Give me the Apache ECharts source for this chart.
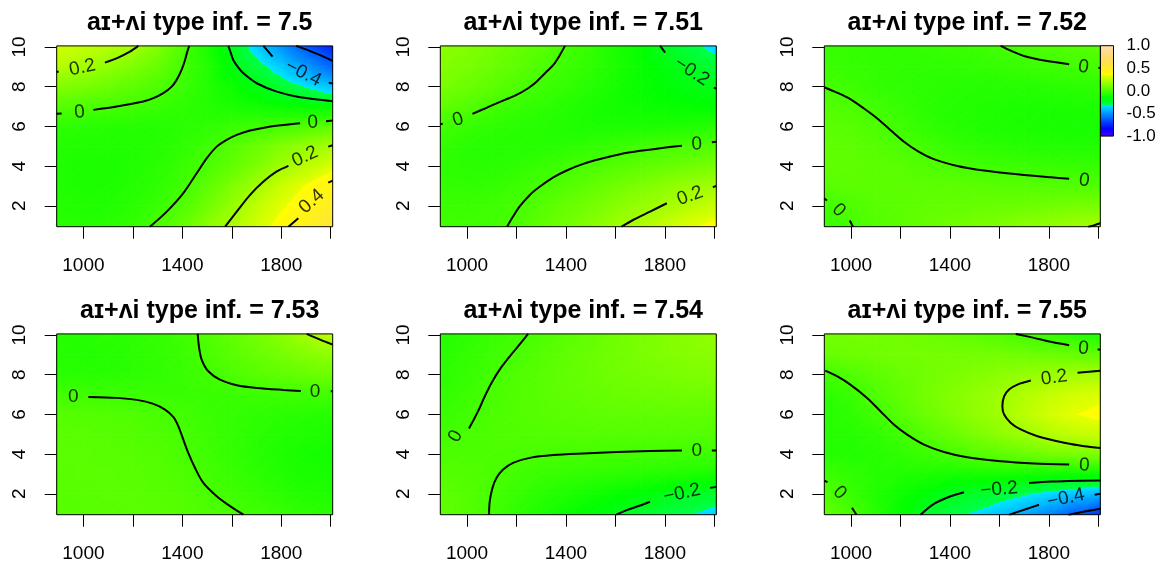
<!DOCTYPE html>
<html>
<head>
<meta charset="utf-8">
<script src="https://cdn.jsdelivr.net/npm/echarts@6/dist/echarts.min.js"></script>
<style>
  html, body { margin: 0; padding: 0; background: #fff; }
  #chart { width: 1162px; height: 569px; }
</style>
</head>
<body>
<div id="chart"></div>
<script>
// ---------- data ----------
const panelValues = ['7.5', '7.51', '7.52', '7.53', '7.54', '7.55'];
const xNodes = [892, 1000, 1100, 1200, 1300, 1400, 1500, 1600, 1700, 1800, 1900, 2008];
const yNodes = [0.95, 2, 3, 4, 5, 6, 7, 8, 9, 10.05];
const xTicks = [1000, 1200, 1400, 1600, 1800, 2000];
const xTickLabels = [1000, 1400, 1800];
const yTicks = [2, 4, 6, 8, 10];
const legendTicks = [-1, -0.5, 0, 0.5, 1];

// surface values, rows from top (y = 10.05) down to bottom (y = 0.95), columns follow xNodes
const z1 = [
  [0.30, 0.27, 0.24, 0.21, 0.13, 0.03, -0.09, -0.21, -0.36, -0.50, -0.64, -0.76],
  [0.24, 0.20, 0.16, 0.12, 0.07, 0.00, -0.07, -0.17, -0.27, -0.37, -0.48, -0.60],
  [0.13, 0.11, 0.08, 0.05, 0.02, -0.02, -0.07, -0.12, -0.18, -0.25, -0.32, -0.39],
  [0.035, 0.02, 0.005, -0.01, -0.03, -0.05, -0.07, -0.09, -0.11, -0.13, -0.14, -0.14],
  [-0.05, -0.06, -0.07, -0.07, -0.07, -0.06, -0.05, -0.03, -0.015, -0.003, 0.02, 0.05],
  [-0.07, -0.08, -0.08, -0.08, -0.07, -0.05, -0.015, 0.03, 0.08, 0.13, 0.17, 0.21],
  [-0.08, -0.09, -0.09, -0.08, -0.06, -0.03, 0.01, 0.06, 0.12, 0.19, 0.25, 0.32],
  [-0.08, -0.09, -0.09, -0.07, -0.05, -0.01, 0.05, 0.12, 0.20, 0.28, 0.35, 0.42],
  [-0.07, -0.08, -0.08, -0.06, -0.03, 0.02, 0.09, 0.17, 0.26, 0.33, 0.40, 0.48],
  [-0.06, -0.07, -0.06, -0.04, 0.01, 0.07, 0.15, 0.22, 0.30, 0.38, 0.46, 0.55]
];
const z2 = [
  [0.15, 0.13, 0.10, 0.07, 0.04, 0.00, -0.04, -0.09, -0.14, -0.21, -0.28, -0.35],
  [0.13, 0.11, 0.08, 0.05, 0.015, -0.02, -0.05, -0.09, -0.13, -0.17, -0.21, -0.26],
  [0.11, 0.08, 0.05, 0.02, -0.015, -0.04, -0.07, -0.10, -0.13, -0.16, -0.18, -0.20],
  [0.06, 0.03, -0.002, -0.03, -0.05, -0.07, -0.09, -0.11, -0.12, -0.13, -0.14, -0.15],
  [-0.01, -0.03, -0.05, -0.06, -0.07, -0.08, -0.09, -0.09, -0.09, -0.09, -0.08, -0.07],
  [-0.04, -0.06, -0.07, -0.07, -0.07, -0.06, -0.045, -0.03, -0.015, -0.002, 0.01, 0.025],
  [-0.05, -0.06, -0.06, -0.05, -0.03, -0.01, 0.01, 0.03, 0.05, 0.07, 0.09, 0.11],
  [-0.04, -0.045, -0.04, -0.02, 0.00, 0.03, 0.06, 0.09, 0.12, 0.15, 0.18, 0.20],
  [-0.02, -0.025, -0.015, -0.003, 0.03, 0.07, 0.10, 0.14, 0.17, 0.20, 0.24, 0.28],
  [-0.01, -0.01, -0.01, 0.01, 0.06, 0.10, 0.14, 0.19, 0.23, 0.28, 0.33, 0.38]
];
const z3 = [
  [-0.03, -0.04, -0.045, -0.045, -0.04, -0.03, -0.02, -0.002, 0.01, 0.02, 0.03, 0.04],
  [-0.02, -0.035, -0.045, -0.05, -0.05, -0.05, -0.045, -0.04, -0.03, -0.02, -0.01, 0.0],
  [0.0, -0.02, -0.04, -0.05, -0.06, -0.065, -0.07, -0.07, -0.07, -0.065, -0.06, -0.05],
  [0.03, 0.015, -0.01, -0.035, -0.055, -0.07, -0.08, -0.085, -0.09, -0.09, -0.09, -0.09],
  [0.05, 0.035, 0.015, -0.015, -0.045, -0.065, -0.08, -0.09, -0.095, -0.10, -0.10, -0.10],
  [0.06, 0.05, 0.035, 0.015, -0.01, -0.035, -0.05, -0.06, -0.07, -0.075, -0.08, -0.08],
  [0.06, 0.055, 0.05, 0.04, 0.025, 0.008, -0.008, -0.018, -0.025, -0.03, -0.035, -0.035],
  [0.04, 0.05, 0.05, 0.05, 0.05, 0.05, 0.045, 0.04, 0.035, 0.03, 0.025, 0.02],
  [-0.01, 0.02, 0.04, 0.05, 0.06, 0.065, 0.07, 0.075, 0.08, 0.09, 0.10, 0.11],
  [-0.03, -0.002, 0.03, 0.05, 0.07, 0.09, 0.11, 0.13, 0.15, 0.17, 0.19, 0.21]
];
const z4 = [
  [-0.07, -0.07, -0.06, -0.05, -0.035, -0.015, 0.02, 0.06, 0.10, 0.14, 0.20, 0.26],
  [-0.07, -0.075, -0.07, -0.06, -0.045, -0.025, 0.005, 0.04, 0.07, 0.10, 0.13, 0.16],
  [-0.06, -0.065, -0.065, -0.055, -0.045, -0.03, -0.01, 0.015, 0.035, 0.055, 0.07, 0.085],
  [-0.01, -0.015, -0.02, -0.025, -0.03, -0.03, -0.03, -0.03, -0.025, -0.02, -0.015, -0.01],
  [0.03, 0.03, 0.025, 0.018, 0.008, -0.008, -0.025, -0.04, -0.05, -0.06, -0.065, -0.07],
  [0.04, 0.04, 0.035, 0.028, 0.017, 0.0, -0.02, -0.04, -0.06, -0.075, -0.085, -0.09],
  [0.045, 0.045, 0.04, 0.035, 0.025, 0.008, -0.015, -0.04, -0.065, -0.085, -0.10, -0.11],
  [0.04, 0.045, 0.045, 0.04, 0.03, 0.017, -0.004, -0.03, -0.055, -0.08, -0.095, -0.10],
  [0.035, 0.04, 0.045, 0.045, 0.035, 0.025, 0.01, -0.01, -0.035, -0.06, -0.075, -0.085],
  [0.03, 0.035, 0.04, 0.045, 0.04, 0.03, 0.02, 0.008, -0.01, -0.03, -0.05, -0.065]
];
const z5 = [
  [-0.07, -0.05, -0.03, -0.01, 0.015, 0.04, 0.065, 0.09, 0.11, 0.13, 0.145, 0.16],
  [-0.065, -0.04, -0.02, 0.005, 0.03, 0.055, 0.075, 0.095, 0.11, 0.125, 0.135, 0.145],
  [-0.055, -0.035, -0.006, 0.02, 0.04, 0.06, 0.075, 0.09, 0.10, 0.11, 0.12, 0.125],
  [-0.045, -0.02, 0.005, 0.025, 0.04, 0.055, 0.065, 0.075, 0.08, 0.085, 0.09, 0.09],
  [-0.03, -0.012, 0.01, 0.025, 0.035, 0.045, 0.05, 0.055, 0.055, 0.055, 0.055, 0.055],
  [-0.01, 0.003, 0.015, 0.02, 0.025, 0.028, 0.03, 0.03, 0.03, 0.03, 0.028, 0.025],
  [0.01, 0.015, 0.015, 0.012, 0.006, 0.0, -0.003, -0.006, -0.008, -0.01, -0.012, -0.014],
  [0.03, 0.025, 0.008, -0.01, -0.025, -0.035, -0.045, -0.055, -0.065, -0.075, -0.085, -0.10],
  [0.05, 0.03, 0.0, -0.03, -0.06, -0.085, -0.11, -0.135, -0.16, -0.19, -0.215, -0.24],
  [0.06, 0.03, -0.005, -0.05, -0.09, -0.13, -0.165, -0.20, -0.24, -0.28, -0.31, -0.36]
];
const z6 = [
  [0.10, 0.10, 0.10, 0.095, 0.085, 0.07, 0.05, 0.025, -0.01, -0.04, -0.065, -0.09],
  [0.07, 0.08, 0.09, 0.10, 0.10, 0.10, 0.10, 0.10, 0.09, 0.08, 0.07, 0.06],
  [-0.01, 0.02, 0.05, 0.075, 0.095, 0.11, 0.13, 0.15, 0.17, 0.185, 0.20, 0.21],
  [-0.06, -0.03, 0.02, 0.06, 0.10, 0.13, 0.16, 0.19, 0.23, 0.27, 0.30, 0.32],
  [-0.07, -0.05, -0.015, 0.035, 0.08, 0.12, 0.16, 0.195, 0.25, 0.30, 0.34, 0.37],
  [-0.07, -0.07, -0.05, -0.015, 0.03, 0.07, 0.11, 0.15, 0.185, 0.23, 0.26, 0.28],
  [-0.07, -0.075, -0.07, -0.05, -0.025, 0.0, 0.03, 0.05, 0.075, 0.10, 0.11, 0.125],
  [-0.02, -0.05, -0.07, -0.08, -0.09, -0.10, -0.10, -0.10, -0.105, -0.11, -0.115, -0.12],
  [0.03, -0.03, -0.08, -0.12, -0.16, -0.21, -0.23, -0.26, -0.30, -0.34, -0.38, -0.42],
  [0.06, 0.01, -0.07, -0.14, -0.23, -0.28, -0.33, -0.39, -0.45, -0.53, -0.62, -0.72]
];

// contour pieces: [level, [[x, y], ...]]
const lines1 = [
  [0.2, [[892, 8.74], [900, 8.76]]],
  [0.2, [[1087, 9.21], [1134, 9.42], [1188, 9.76], [1222, 10.05]]],
  [0, [[892, 6.63], [912, 6.65]]],
  [0, [[1040, 6.83], [1135, 7.0], [1242, 7.25], [1283, 7.42], [1323, 7.67], [1357, 8.0], [1377, 8.34], [1397, 8.84], [1411, 9.34], [1420, 9.76], [1428, 10.05]]],
  [-0.2, [[1586, 10.05], [1596, 9.7], [1606, 9.34], [1625, 8.98], [1647, 8.67], [1701, 8.17], [1782, 7.75], [1876, 7.47], [2008, 7.27]]],
  [-0.4, [[1728, 10.05], [1765, 9.51]]],
  [-0.4, [[1992, 8.19], [2008, 8.16]]],
  [-0.6, [[1860, 10.05], [1935, 9.7], [2008, 9.3]]],
  [0, [[1269, 0.95], [1337, 1.71], [1404, 2.64], [1458, 3.64], [1499, 4.40], [1539, 4.98], [1579, 5.32], [1620, 5.57], [1674, 5.79], [1741, 5.96], [1809, 6.07], [1876, 6.16]]],
  [0, [[1981, 6.26], [2008, 6.29]]],
  [0.2, [[1573, 0.95], [1620, 1.71], [1674, 2.55], [1728, 3.22], [1782, 3.73], [1829, 4.01]]],
  [0.2, [[1990, 4.98], [2008, 5.05]]],
  [0.4, [[1829, 0.95], [1869, 1.38]]],
  [0.4, [[1990, 3.17], [2008, 3.27]]]
];
const lines2 = [
  [0, [[892, 6.1], [902, 6.14]]],
  [0, [[1022, 6.63], [1065, 6.86], [1105, 7.08], [1153, 7.33], [1200, 7.58], [1247, 7.92], [1281, 8.25], [1322, 8.76], [1349, 9.09], [1376, 9.6], [1396, 10.05]]],
  [-0.2, [[1781, 10.05], [1801, 9.71]]],
  [-0.2, [[1998, 7.95], [2008, 7.9]]],
  [0, [[1162, 0.95], [1186, 1.46], [1213, 1.97], [1254, 2.55], [1295, 2.97], [1349, 3.43], [1403, 3.78], [1470, 4.11], [1538, 4.36], [1619, 4.6], [1700, 4.77], [1781, 4.9], [1869, 5.03]]],
  [0, [[1990, 5.2], [2008, 5.22]]],
  [0.2, [[1625, 0.95], [1673, 1.3], [1740, 1.71], [1808, 2.13]]],
  [0.2, [[1994, 2.94], [2008, 3.0]]]
];
const lines3 = [
  [0, [[1605, 10.05], [1646, 9.81], [1700, 9.54], [1781, 9.31], [1882, 9.13]]],
  [0, [[2000, 8.95], [2008, 8.94]]],
  [0, [[892, 7.97], [943, 7.7], [997, 7.37], [1051, 6.91], [1105, 6.41], [1159, 5.82], [1213, 5.24], [1268, 4.77], [1335, 4.35], [1430, 4.01], [1538, 3.78], [1673, 3.59], [1808, 3.44], [1882, 3.36]]],
  [0, [[892, 2.37], [903, 2.27]]],
  [0, [[995, 1.26], [1008, 0.95]]],
  [0.2, [[1960, 0.95], [1985, 1.03], [2008, 1.12]]]
];
const lines4 = [
  [0, [[1020, 6.88], [1135, 6.83], [1216, 6.73], [1283, 6.53], [1330, 6.24], [1364, 5.86], [1384, 5.4], [1404, 4.73], [1424, 4.06], [1451, 3.31], [1485, 2.55], [1539, 1.88], [1593, 1.38], [1647, 0.95]]],
  [0, [[1462, 10.05], [1468, 9.34], [1478, 8.76], [1505, 8.17], [1552, 7.75], [1620, 7.47], [1701, 7.33], [1809, 7.23], [1879, 7.18]]],
  [0, [[2000, 7.16], [2008, 7.16]]],
  [0.2, [[1903, 10.05], [1957, 9.76], [2008, 9.51]]]
];
const lines5 = [
  [0, [[1008, 5.29], [1024, 5.66], [1045, 6.16], [1072, 6.91], [1099, 7.58], [1132, 8.25], [1173, 8.92], [1207, 9.43], [1247, 10.05]]],
  [0, [[1089, 0.95], [1092, 1.63], [1103, 2.3], [1119, 2.8], [1146, 3.22], [1186, 3.56], [1254, 3.81], [1349, 3.95], [1470, 4.03], [1605, 4.1], [1740, 4.15], [1869, 4.18]]],
  [0, [[1990, 4.18], [2008, 4.18]]],
  [-0.2, [[1603, 0.95], [1646, 1.18], [1700, 1.41], [1740, 1.6]]],
  [-0.2, [[1983, 2.3], [2008, 2.35]]]
];
const lines6 = [
  [0, [[1666, 10.05], [1740, 9.85], [1808, 9.65], [1882, 9.48]]],
  [0, [[1997, 9.26], [2008, 9.26]]],
  [0.2, [[1727, 7.7], [1673, 7.5], [1639, 7.25], [1619, 6.91], [1612, 6.41], [1619, 5.99], [1646, 5.57], [1686, 5.24], [1754, 4.9], [1862, 4.57], [1943, 4.4], [2008, 4.31]]],
  [0.2, [[1916, 8.09], [2008, 8.2]]],
  [0, [[896, 8.2], [943, 7.92], [997, 7.5], [1065, 6.83], [1119, 6.16], [1173, 5.49], [1227, 4.98], [1295, 4.48], [1376, 4.11], [1470, 3.84], [1605, 3.64], [1740, 3.53], [1882, 3.48]]],
  [0, [[892, 2.67], [905, 2.59]]],
  [0, [[1004, 1.3], [1022, 0.95]]],
  [-0.2, [[1281, 0.95], [1335, 1.5], [1403, 1.88], [1457, 2.08]]],
  [-0.2, [[1720, 2.55], [1808, 2.62], [1875, 2.64], [2008, 2.67]]],
  [-0.4, [[1640, 0.95], [1700, 1.2], [1760, 1.45]]],
  [-0.4, [[1985, 1.95], [2008, 2.0]]],
  [-0.6, [[1880, 0.95], [1950, 1.12], [2008, 1.25]]]
];

// contour labels: [level, x, y, angle]
const labels1 = [[0.2, 996, 8.96, 12], [0, 984, 6.71, 5], [-0.4, 1889, 8.67, -27], [0, 1927, 6.19, 3], [0.2, 1896, 4.48, 25], [0.4, 1923, 2.22, 42]];
const labels2 = [[0, 964, 6.33, 17], [-0.2, 1909, 8.76, -33], [0, 1929, 5.1, 3], [0.2, 1902, 2.5, 20]];
const labels3 = [[0, 1940, 8.98, -8], [0, 1943, 3.27, -8], [0, 950, 1.77, -45]];
const labels4 = [[0, 959, 6.88, 0], [0, 1937, 7.15, 0]];
const labels5 = [[0, 954, 4.9, 60], [0, 1929, 4.16, 0], [-0.2, 1869, 2.02, 12]];
const labels6 = [[0, 1940, 9.31, -5], [0.2, 1821, 7.85, 8], [0, 1943, 3.44, -3], [0, 954, 2.05, -45], [-0.2, 1599, 2.22, 5], [-0.4, 1869, 1.77, 12]];

const surfaces = [z1, z2, z3, z4, z5, z6];
const contourLines = [lines1, lines2, lines3, lines4, lines5, lines6];
const contourLabels = [labels1, labels2, labels3, labels4, labels5, labels6];

// ---------- layout ----------
const FONT = 'Liberation Sans, Arial, Helvetica, sans-serif';
const COLS = [56.7, 440.3, 824.3];
const ROWS = [45.9, 333.9];
const PW = 276, PH = 180.8;
const X_MIN = xNodes[0], X_MAX = xNodes[xNodes.length - 1];
const Y_MIN = yNodes[0], Y_MAX = yNodes[yNodes.length - 1];

// ---------- colour scale (topographic palette, -1 .. 1) ----------
const BREAK_LO = -1 + 2 * 22 / 64;
const BREAK_HI = -1 + 2 * 43 / 64;
function hsv(h, s, v) {
  const c = v * s, hp = (h % 360) / 60, x = c * (1 - Math.abs(hp % 2 - 1));
  let r = 0, g = 0, b = 0;
  if (hp < 1) { r = c; g = x; } else if (hp < 2) { r = x; g = c; }
  else if (hp < 3) { g = c; b = x; } else if (hp < 4) { g = x; b = c; }
  else if (hp < 5) { r = x; b = c; } else { r = c; b = x; }
  const m = v - c;
  return 'rgb(' + Math.round((r + m) * 255) + ',' + Math.round((g + m) * 255) + ',' + Math.round((b + m) * 255) + ')';
}
function topo(v) {
  v = Math.max(-1, Math.min(1, v));
  if (v < BREAK_LO) return hsv(258 - 72 * (v + 1) / (BREAK_LO + 1), 1, 1);
  if (v < BREAK_HI) return hsv(138 - 72 * (v - BREAK_LO) / (BREAK_HI - BREAK_LO), 1, 1);
  const u = (v - BREAK_HI) / (1 - BREAK_HI);
  return hsv(60 - 24 * u, 1 - 0.7 * u, 1);
}
function gradientStops(vLo, vHi, n) {
  const ts = [];
  for (let k = 0; k <= n; k++) ts.push(k / n);
  [BREAK_LO, BREAK_HI].forEach(b => {
    if (b > vLo && b < vHi) {
      const t = (b - vLo) / (vHi - vLo);
      ts.push(Math.max(0, t - 1e-4), t);
    }
  });
  ts.sort((a, b) => a - b);
  return ts.map(t => ({ offset: t, color: topo(vLo + t * (vHi - vLo)) }));
}

// ---------- shaded triangles ----------
function shadedTriangle(A, B, C) {
  const d1x = B.p[0] - A.p[0], d1y = B.p[1] - A.p[1];
  const d2x = C.p[0] - A.p[0], d2y = C.p[1] - A.p[1];
  const dv1 = B.v - A.v, dv2 = C.v - A.v;
  const det = d1x * d2y - d1y * d2x;
  const vMin = Math.min(A.v, B.v, C.v), vMax = Math.max(A.v, B.v, C.v);
  let fill;
  if (Math.abs(det) < 1e-9 || vMax - vMin < 1e-6) {
    fill = topo(vMin);
  } else {
    const gx = (dv1 * d2y - dv2 * d1y) / det;
    const gy = (d1x * dv2 - d2x * dv1) / det;
    const g2 = gx * gx + gy * gy;
    const lo = [A, B, C].reduce((m, c) => (c.v < m.v ? c : m));
    const k = (vMax - vMin) / g2;
    fill = {
      type: 'linear', global: true,
      x: lo.p[0], y: lo.p[1], x2: lo.p[0] + gx * k, y2: lo.p[1] + gy * k,
      colorStops: gradientStops(vMin, vMax, 8)
    };
  }
  return { type: 'polygon', shape: { points: [A.p, B.p, C.p] }, style: { fill: fill, stroke: fill, lineWidth: 0.8 } };
}

function surfaceSeries(idx) {
  const z = surfaces[idx];
  const nRows = yNodes.length;
  const cells = [];
  for (let j = 0; j < nRows - 1; j++) for (let i = 0; i < xNodes.length - 1; i++) cells.push([i, j]);
  return {
    type: 'custom', xAxisIndex: idx, yAxisIndex: idx, clip: true, silent: true, z: 1,
    data: cells,
    encode: { x: -1, y: -1 },
    renderItem: function (params, api) {
      const i = api.value(0), j = api.value(1);
      const node = (a, b) => ({ p: api.coord([xNodes[a], yNodes[b]]), v: z[nRows - 1 - b][a] });
      const c00 = node(i, j), c10 = node(i + 1, j), c01 = node(i, j + 1), c11 = node(i + 1, j + 1);
      return { type: 'group', children: [shadedTriangle(c00, c10, c11), shadedTriangle(c00, c11, c01)] };
    }
  };
}

function boxSeries(idx) {
  return {
    type: 'custom', xAxisIndex: idx, yAxisIndex: idx, clip: false, silent: true, z: 10,
    data: [[X_MIN, Y_MAX]],
    renderItem: function (params, api) {
      const tl = api.coord([X_MIN, Y_MAX]), br = api.coord([X_MAX, Y_MIN]);
      return { type: 'rect', shape: { x: tl[0], y: tl[1], width: br[0] - tl[0], height: br[1] - tl[1] },
        style: { fill: 'none', stroke: '#000', lineWidth: 1 } };
    }
  };
}

function levelText(level) {
  if (level === 0) return '0';
  return (level < 0 ? '\u2212' : '') + Math.abs(level).toString();
}

// ---------- assemble ----------
const grids = [], xAxes = [], yAxes = [], series = [], titles = [];
for (let p = 0; p < 6; p++) {
  const left = COLS[p % 3], top = ROWS[Math.floor(p / 3)];
  grids.push({ left: left, top: top, width: PW, height: PH, containLabel: false });
  xAxes.push({
    gridIndex: p, type: 'value', min: X_MIN, max: X_MAX,
    splitLine: { show: false }, axisLine: { show: false },
    axisTick: { show: true, length: 12, customValues: xTicks, lineStyle: { color: '#000', width: 1 } },
    axisLabel: { customValues: xTickLabels, formatter: v => String(v), margin: 30, fontSize: 19, color: '#000', fontFamily: FONT }
  });
  yAxes.push({
    gridIndex: p, type: 'value', min: Y_MIN, max: Y_MAX,
    splitLine: { show: false }, axisLine: { show: false },
    axisTick: { show: true, length: 12, customValues: yTicks, lineStyle: { color: '#000', width: 1 } },
    axisLabel: { customValues: yTicks, formatter: v => String(v), rotate: 90, margin: 27, fontSize: 19, color: '#000', fontFamily: FONT }
  });
  titles.push({
    text: 'a\u026A+\u028Ci type inf. = ' + panelValues[p],
    left: left + PW / 2, top: top - 40, textAlign: 'center',
    textStyle: { fontSize: 25, fontWeight: 'bold', color: '#000', fontFamily: FONT }
  });
  series.push(surfaceSeries(p));
  contourLines[p].forEach(([level, pts]) => {
    series.push({
      type: 'line', xAxisIndex: p, yAxisIndex: p, data: pts, symbol: 'none', smooth: 0.3,
      silent: true, z: 3, clip: true, animation: false,
      lineStyle: { color: '#000', width: 2 }
    });
  });
  series.push({
    type: 'scatter', xAxisIndex: p, yAxisIndex: p, symbolSize: 0, silent: true, z: 4,
    data: contourLabels[p].map(([level, x, y, ang]) => ({
      value: [x, y],
      label: { show: true, position: 'inside', formatter: levelText(level), rotate: ang,
        fontSize: 19, color: '#000', fontFamily: FONT }
    }))
  });
  series.push(boxSeries(p));
}

// colour key beside the third panel
grids.push({ left: 1100.5, top: 45.7, width: 13, height: 90.4 });
xAxes.push({ gridIndex: 6, type: 'value', min: 0, max: 1, show: false });
yAxes.push({
  gridIndex: 6, type: 'value', position: 'right', min: -1, max: 1,
  splitLine: { show: false }, axisLine: { show: false }, axisTick: { show: false },
  axisLabel: { customValues: legendTicks, formatter: v => v.toFixed(1), margin: 13, fontSize: 17, color: '#000', fontFamily: FONT }
});
series.push({
  type: 'custom', xAxisIndex: 6, yAxisIndex: 6, silent: true, clip: false, z: 5,
  data: [[0, legendTicks[0]]],
  renderItem: function (params, api) {
    const tl = api.coord([0, legendTicks[legendTicks.length - 1]]);
    const br = api.coord([1, legendTicks[0]]);
    const stops = gradientStops(-1, 1, 64).map(s => ({ offset: 1 - s.offset, color: s.color })).reverse();
    return { type: 'rect', shape: { x: tl[0], y: tl[1], width: br[0] - tl[0], height: br[1] - tl[1] },
      style: { fill: { type: 'linear', x: 0, y: 0, x2: 0, y2: 1, colorStops: stops }, stroke: '#000', lineWidth: 1 } };
  }
});

const chart = echarts.init(document.getElementById('chart'), null, { renderer: 'canvas' });
chart.setOption({
  animation: false,
  backgroundColor: '#fff',
  title: titles,
  grid: grids,
  xAxis: xAxes,
  yAxis: yAxes,
  series: series
});
</script>
</body>
</html>
